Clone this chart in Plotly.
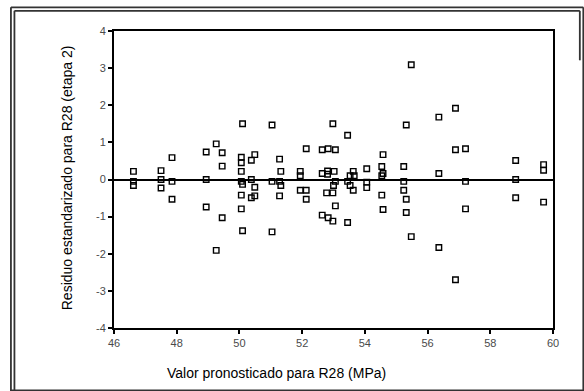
import plotly.graph_objects as go

# Predicted values (MPa) and standardized residuals
x_pred = [46.62, 46.62, 46.62, 47.5, 47.5, 47.5, 47.85, 47.85, 47.85,
          48.94, 48.94, 48.94, 49.26, 49.26, 49.45, 49.45, 49.45,
          50.1, 50.06, 50.06, 50.06, 50.06, 50.1, 50.06, 50.06, 50.1,
          50.38, 50.49, 50.38, 50.49, 50.38, 50.49,
          51.04, 51.04, 51.04, 51.28, 51.32, 51.28, 51.32, 51.28,
          51.94, 51.94, 51.94, 52.13, 52.13, 52.13,
          52.64, 52.83, 53.06, 52.64, 52.81, 52.81, 53.02, 52.98, 53.45,
          53.53, 53.66, 53.63, 54.06, 54.58, 54.54, 54.58, 54.54,
          55.24, 55.32, 55.48,
          52.78, 52.98, 53.06, 52.64, 52.83, 52.98, 53.45, 53.06, 53.0,
          53.45, 53.53, 53.63, 54.06, 54.06, 54.54, 54.58,
          55.24, 55.24, 55.32, 55.32, 55.48,
          56.36, 56.36, 56.89, 56.89, 57.21, 58.81, 58.81, 59.70, 59.70,
          56.36, 56.89, 57.21, 57.21, 58.81, 59.70]
residuals = [0.22, -0.05, -0.16, 0.24, 0.0, -0.23, 0.59, -0.05, -0.53,
             0.74, 0.0, -0.74, 0.96, -1.91, 0.72, 0.36, -1.03,
             1.50, 0.60, 0.45, 0.22, -0.05, -0.13, -0.42, -0.79, -1.38,
             0.52, 0.67, 0.0, -0.21, -0.49, -0.44,
             1.47, -0.05, -1.41, 0.55, 0.22, -0.05, -0.16, -0.44,
             0.22, 0.10, -0.29, 0.83, -0.29, -0.53,
             0.80, 0.83, 0.80, 0.16, 0.23, 0.14, 0.22, 1.50, 1.19,
             0.10, 0.10, 0.22, 0.29, 0.67, 0.35, 0.16, 0.10,
             0.35, 1.47, 3.09,
             -0.36, -0.36, -0.71, -0.96, -1.03, -1.12, -1.16, -0.05, -0.16,
             -0.05, -0.16, -0.29, -0.07, -0.22, -0.42, -0.81,
             -0.05, -0.29, -0.53, -0.89, -1.54,
             1.68, 0.16, 1.92, 0.80, 0.83, 0.51, 0.0, 0.40, 0.25,
             -1.83, -2.70, -0.05, -0.79, -0.49, -0.61]

x_ticks = [46, 48, 50, 52, 54, 56, 58, 60]
y_ticks = [-4, -3, -2, -1, 0, 1, 2, 3, 4]
y_tick_text = ["-4", "-3", "-2", "-1", "0", "1", "2", "3", "4"]
x_title = "Valor pronosticado para R28 (MPa)"
y_title = "Residuo estandarizado para R28 (etapa 2)"

W, H = 584, 391
L, R, T, B = 114, 31.3, 30.7, 63.3
PW, PH = W - L - R, H - T - B

def px(x):
    return (x - L) / PW

def py(y):
    return (H - B - y) / PH

fig = go.Figure()
fig.add_trace(go.Scatter(
    x=x_pred, y=residuals, mode="markers",
    marker=dict(symbol="square-open", size=5.5, color="black",
                line=dict(color="black", width=1.4)),
    cliponaxis=False, showlegend=False))

axis_common = dict(
    showgrid=False, showline=True, linecolor="black", linewidth=2,
    mirror=True, ticks="outside", ticklen=4, tickwidth=1.5, tickcolor="black",
    tickfont=dict(family="Liberation Sans, Arial", size=11, color="#4a4a4a"),
)
fig.update_xaxes(range=[46, 60], tickvals=x_ticks, zeroline=False, **axis_common)
fig.update_yaxes(range=[-4, 4], tickvals=y_ticks, ticktext=y_tick_text,
                 zeroline=True, zerolinecolor="black", zerolinewidth=1.6,
                 **axis_common)

frame_col = "#333333"
frame_lines = [
    # outer frame: left, top, right, bottom
    (11, 7, 11, 391), (11, 7, 583, 7), (583, 7, 583, 391), (11, 390, 583, 390),
    # inner frame: left, top, right
    (14.5, 10.5, 14.5, 391), (14.5, 10.5, 579.5, 10.5), (579.5, 10.5, 579.5, 60),
]
shapes = [
    dict(type="line", xref="paper", yref="paper",
         x0=px(a), y0=py(b), x1=px(c), y1=py(d),
         line=dict(color=frame_col, width=1.8), layer="above")
    for a, b, c, d in frame_lines
]
fig.update_layout(
    width=W, height=H,
    margin=dict(l=L, r=R, t=T, b=B),
    paper_bgcolor="white", plot_bgcolor="white",
    shapes=shapes,
    annotations=[
        dict(text=x_title, xref="paper", yref="paper", x=px(276), y=py(373),
             showarrow=False, xanchor="center", yanchor="middle",
             font=dict(family="Liberation Sans, Arial", size=14, color="black")),
        dict(text=y_title, xref="paper", yref="paper", x=px(67), y=py(177),
             showarrow=False, xanchor="center", yanchor="middle", textangle=-90,
             font=dict(family="Liberation Sans, Arial", size=14, color="black")),
    ],
)
fig.write_html("out.html")
